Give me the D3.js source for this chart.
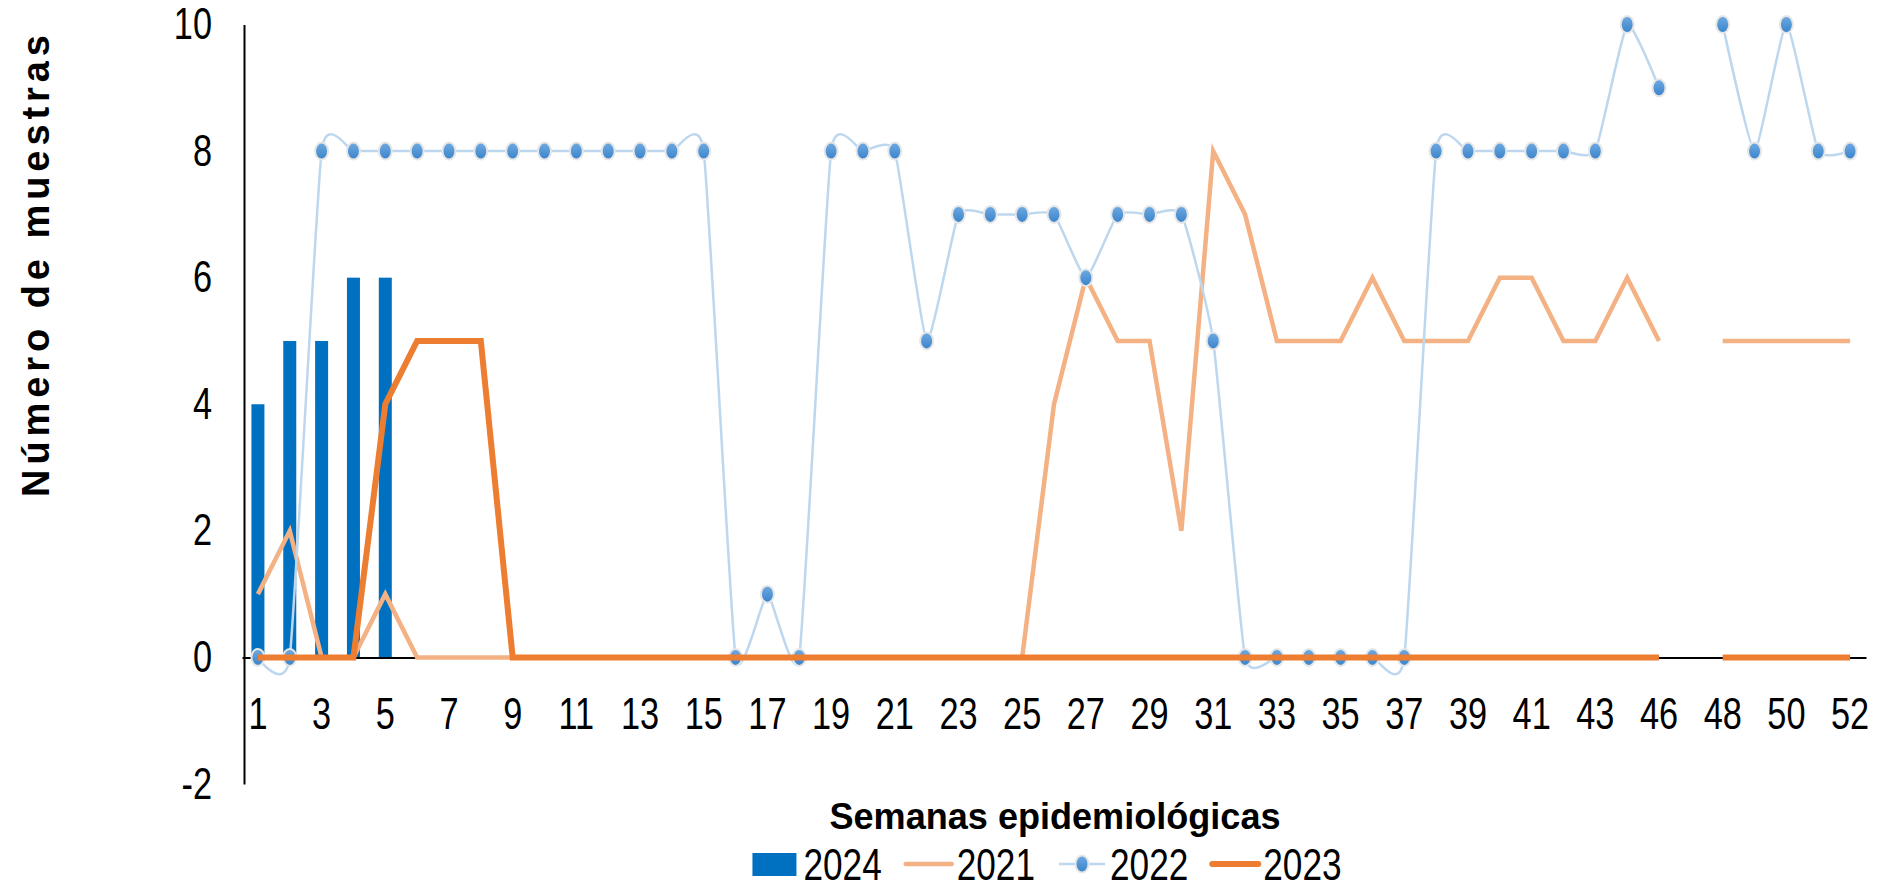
<!DOCTYPE html>
<meta charset="utf-8">
<style>
  body { margin: 0; background: #fff; }
  text { font-family: "Liberation Sans", Arial, sans-serif; fill: #000; }
  .tick text { font-size: 44px; }
  .axis-title { font-weight: bold; }
</style>
<script src="https://d3js.org/d3.v7.min.js"></script>
<div id="chart"></div>
<script>
  // weeks shown on the x axis (no week 45 in the source)
  var weeks = [1,2,3,4,5,6,7,8,9,10,11,12,13,14,15,16,17,18,19,20,21,22,23,24,25,26,
    27,28,29,30,31,32,33,34,35,36,37,38,39,40,41,42,43,44,46,47,48,49,50,51,52];

  var s2024 = [4,5,5,6,6];
  var s2021 = [1,2,0,0,1,0,0,0,0,0,0,0,0,0,0,0,0,0,0,0,0,0,0,0,0,4,
    6,5,5,2,8,7,5,5,5,6,5,5,5,6,6,5,5,6,5,null,5,5,5,5,5];
  var s2022 = [0,0,8,8,8,8,8,8,8,8,8,8,8,8,8,0,1,0,8,8,8,5,7,7,7,7,
    6,7,7,7,5,0,0,0,0,0,0,8,8,8,8,8,8,10,9,null,10,8,10,8,8];
  var s2023 = [0,0,0,0,4,5,5,5,0,0,0,0,0,0,0,0,0,0,0,0,0,0,0,0,0,0,
    0,0,0,0,0,0,0,0,0,0,0,0,0,0,0,0,0,0,0,null,0,0,0,0,0];

  var yTicks = [-2,0,2,4,6,8,10];
  var legendItems = [
    {name: "2024", type: "bar"},
    {name: "2021", type: "line", color: "#F4B183", width: 4.5},
    {name: "2022", type: "marker"},
    {name: "2023", type: "line", color: "#ED7D31", width: 6}
  ];

  var width = 1885, height = 889;
  var squeeze = 0.78; // digits in the source are narrow

  var svg = d3.select("#chart").append("svg")
    .attr("width", width)
    .attr("height", height);

  var defs = svg.append("defs");
  var grad = defs.append("linearGradient")
    .attr("id", "dotfill").attr("x1", 0).attr("y1", 0).attr("x2", 0).attr("y2", 1);
  grad.append("stop").attr("offset", "0%").attr("stop-color", "#6FAAE2");
  grad.append("stop").attr("offset", "100%").attr("stop-color", "#3A83CA");

  var x = d3.scaleBand()
    .domain(weeks)
    .range([242, 1866]);

  var y = d3.scaleLinear()
    .domain([-2, 10])
    .range([784, 24.5]);

  var cx = function(i) { return x(weeks[i]) + x.bandwidth() / 2; };

  // 2024 bars
  svg.append("g").selectAll("rect")
    .data(s2024)
    .enter().append("rect")
      .attr("x", function(d, i) { return cx(i) - 6.5; })
      .attr("y", function(d) { return y(d); })
      .attr("width", 13)
      .attr("height", function(d) { return y(0) - y(d); })
      .attr("fill", "#0070C0");

  // axes
  var yAxis = svg.append("g")
    .attr("transform", "translate(244,0)")
    .call(d3.axisLeft(y).tickValues(yTicks).tickSize(0).tickSizeOuter(0)
      .tickFormat(function(d) { return String(d); }));
  yAxis.select(".domain").attr("stroke", "#000").attr("stroke-width", 2);
  yAxis.selectAll(".tick text")
    .attr("x", 0)
    .attr("font-family", null).attr("font-size", null)
    .attr("transform", "translate(-32,0) scale(" + squeeze + ",1)");

  var xAxis = svg.append("g")
    .attr("transform", "translate(0," + y(0) + ")")
    .call(d3.axisBottom(x)
      .tickValues(weeks.filter(function(d, i) { return i % 2 === 0; }))
      .tickSize(0).tickSizeOuter(0).tickPadding(40));
  xAxis.select(".domain").attr("stroke", "#000").attr("stroke-width", 2);
  xAxis.selectAll(".tick text")
    .attr("font-family", null).attr("font-size", null)
    .attr("transform", "scale(" + squeeze + ",1)");

  var straight = d3.line()
    .defined(function(d) { return d !== null; })
    .x(function(d, i) { return cx(i); })
    .y(function(d) { return y(d); });

  var smooth = d3.line()
    .defined(function(d) { return d !== null; })
    .curve(d3.curveCardinal.tension(0.55))
    .x(function(d, i) { return cx(i); })
    .y(function(d) { return y(d); });

  // 2021
  svg.append("path")
    .attr("d", straight(s2021))
    .attr("fill", "none")
    .attr("stroke", "#F4B183")
    .attr("stroke-width", 4.5)
    .attr("stroke-linejoin", "miter");

  // 2022
  svg.append("path")
    .attr("d", smooth(s2022))
    .attr("fill", "none")
    .attr("stroke", "#BDD7EE")
    .attr("stroke-width", 2.5);

  svg.append("g").selectAll("ellipse")
    .data(s2022.map(function(d, i) { return {v: d, i: i}; }).filter(function(d) { return d.v !== null; }))
    .enter().append("ellipse")
      .attr("cx", function(d) { return cx(d.i); })
      .attr("cy", function(d) { return y(d.v); })
      .attr("rx", 6.5)
      .attr("ry", 8.5)
      .attr("fill", "url(#dotfill)")
      .attr("stroke", "#E6E6E6")
      .attr("stroke-width", 2);

  // 2023
  svg.append("path")
    .attr("d", straight(s2023))
    .attr("fill", "none")
    .attr("stroke", "#ED7D31")
    .attr("stroke-width", 6)
    .attr("stroke-linejoin", "miter");

  // axis titles
  svg.append("text")
    .attr("class", "axis-title")
    .attr("transform", "translate(49,266) rotate(-90)")
    .attr("text-anchor", "middle")
    .attr("font-size", 38)
    .attr("textLength", 462)
    .attr("lengthAdjust", "spacing")
    .text("Número de muestras");

  svg.append("text")
    .attr("class", "axis-title")
    .attr("x", 1055)
    .attr("y", 829)
    .attr("text-anchor", "middle")
    .attr("font-size", 37)
    .attr("textLength", 451)
    .attr("lengthAdjust", "spacingAndGlyphs")
    .text("Semanas epidemiológicas");

  // legend
  var legend = svg.append("g");
  var lx = 0;
  legendItems.forEach(function(item) {
    var g = legend.append("g").attr("transform", "translate(" + lx + ",0)");
    if (item.type === "bar") {
      g.append("rect").attr("x", 0).attr("y", -11).attr("width", 44).attr("height", 23).attr("fill", "#0070C0");
    } else if (item.type === "line") {
      g.append("line").attr("x1", 0).attr("x2", 46).attr("y1", 0).attr("y2", 0)
        .attr("stroke", item.color).attr("stroke-width", item.width).attr("stroke-linecap", "round");
    } else {
      g.append("line").attr("x1", 0).attr("x2", 46).attr("y1", 0).attr("y2", 0)
        .attr("stroke", "#BDD7EE").attr("stroke-width", 2.5);
      g.append("ellipse").attr("cx", 23).attr("cy", 0).attr("rx", 6.5).attr("ry", 8.5)
        .attr("fill", "url(#dotfill)").attr("stroke", "#E6E6E6").attr("stroke-width", 2);
    }
    var t = g.append("text")
      .attr("transform", "translate(51,16) scale(0.8,1)")
      .attr("font-size", 44)
      .text(item.name);
    lx += 51 + t.node().getComputedTextLength() * 0.8 + 24;
  });
  lx -= 24;
  legend.attr("transform", "translate(" + (1047 - lx / 2) + ",864)");
</script>
